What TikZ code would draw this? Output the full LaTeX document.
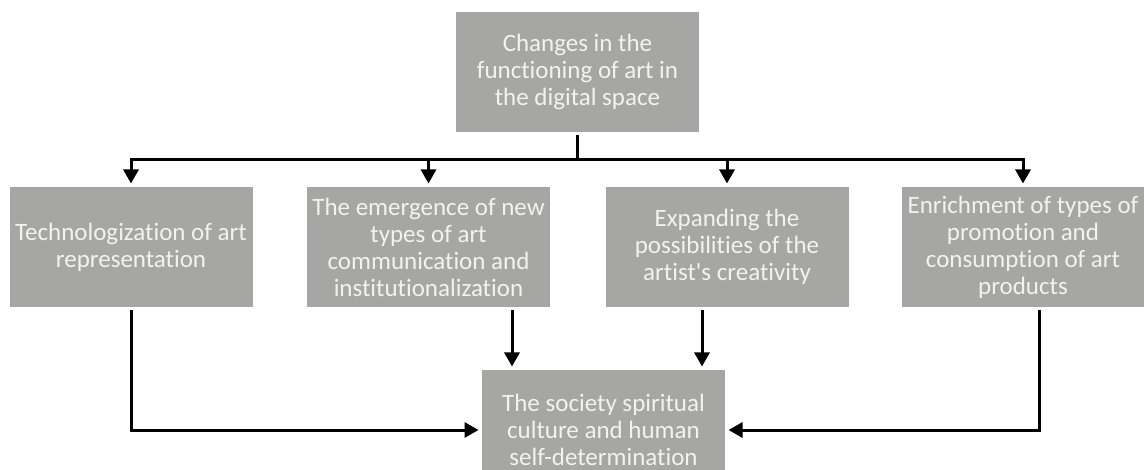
\documentclass[tikz,border=0pt]{standalone}
\usepackage{fontspec}
\setmainfont{Carlito}[Ligatures=NoCommon]
\usetikzlibrary{arrows.meta}
\definecolor{boxgray}{RGB}{166,166,164}
\begin{document}
\begin{tikzpicture}[x=1pt,y=-1pt,
    box/.style={fill=boxgray, text=white!95!black, minimum width=243pt, minimum height=120pt,
        align=center, inner sep=0pt, outer sep=3.5pt, font=\fontsize{25}{27}\selectfont},
    arr/.style={line width=3pt, -{Triangle[length=14pt,width=15pt]}}]
    \useasboundingbox (0,0) rectangle (1144,470);
    \node [box] (changes) at (577.5,72) {Changes in the\\functioning of art in\\the digital space};
    \node [box] (techno) at (131,247) {Technologization of art\\representation};
    \node [box] (emerge) at (428.5,247) {The emergence of new\\types of art\\communication and\\institutionalization};
    \node [box] (expand) at (727,247) {Expanding the\\possibilities of the\\artist\textquotesingle s creativity};
    \node [box] (enrich) at (1023,247) {Enrichment of types of\\promotion and\\consumption of art\\products};
    \node [box] (society) at (603.5,430) {The society spiritual\\culture and human\\self-determination};
    \coordinate (bus) at (577.5,160);
    \draw [line width=3pt] (changes.south) -- (bus);
    \draw [arr] (bus) -| (techno.north);
    \draw [arr] (bus) -| (emerge.north);
    \draw [arr] (bus) -| (expand.north);
    \draw [arr] (bus) -| (enrich.north);
    \draw [arr] (techno.south) |- (society.west);
    \draw [arr] ([xshift=16pt]enrich.south) |- (society.east);
    \draw [arr] ([xshift=-91.5pt]society.north |- emerge.south) -- ([xshift=-91.5pt]society.north);
    \draw [arr] ([xshift=98.5pt]society.north |- expand.south) -- ([xshift=98.5pt]society.north);
\end{tikzpicture}
\end{document}
